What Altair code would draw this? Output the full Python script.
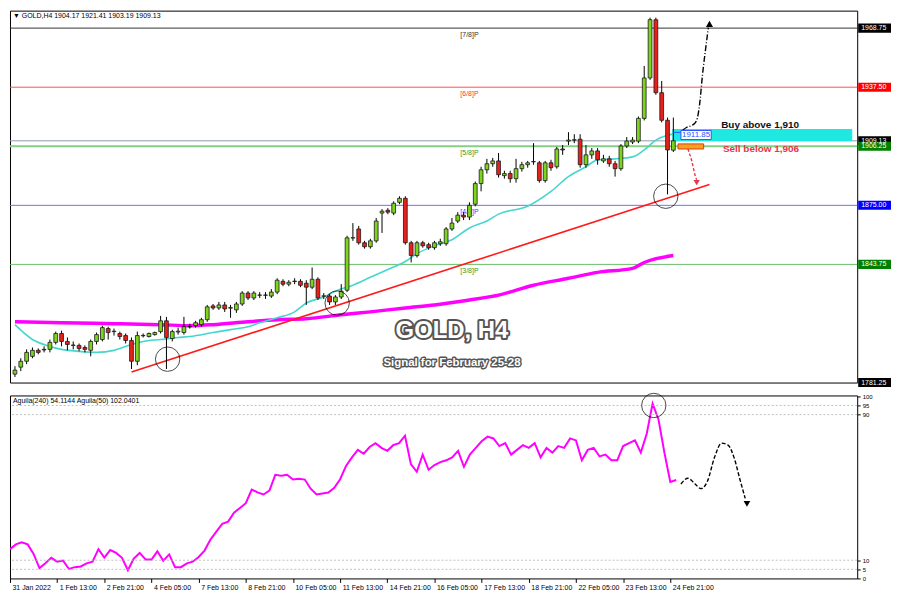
import json
import altair as alt
import pandas as pd

W = 852
H1 = 374
H2 = 184
XMAX = 143.7
FONT = "Liberation Sans, DejaVu Sans"

# ---------------- data ----------------
tick_labels = ["31 Jan 2022", "1 Feb 13:00", "2 Feb 21:00", "4 Feb 05:00", "7 Feb 13:00",
               "8 Feb 21:00", "10 Feb 05:00", "11 Feb 13:00", "14 Feb 21:00", "16 Feb 05:00",
               "17 Feb 13:00", "18 Feb 21:00", "22 Feb 05:00", "23 Feb 13:00", "24 Feb 21:00"]
tick_bars = [0, 8, 16, 24, 32, 40, 48, 56, 64, 72, 80, 88, 96, 104, 112]

opens = [1785.7, 1789.4, 1792.5, 1795.1, 1798.3, 1798.8, 1798.8, 1802.5, 1807.2, 1803.0,
         1800.9, 1800.9, 1799.8, 1798.3, 1803.0, 1804.0, 1809.8, 1808.2, 1807.2, 1806.1,
         1803.5, 1792.5, 1806.0, 1805.6, 1806.6, 1808.2, 1813.9, 1804.5, 1808.0, 1807.7,
         1810.7, 1811.3, 1811.9, 1814.5, 1821.8, 1820.7, 1822.3, 1820.6, 1819.7, 1822.8,
         1828.6, 1826.0, 1827.4, 1827.6, 1827.0, 1829.1, 1834.8, 1833.3, 1834.9, 1834.8,
         1833.8, 1831.7, 1835.9, 1826.9, 1827.0, 1823.9, 1826.5, 1830.1, 1857.7, 1862.5,
         1855.2, 1853.1, 1856.2, 1870.9, 1872.4, 1870.9, 1876.6, 1878.7, 1855.2, 1848.4,
         1855.2, 1854.2, 1852.6, 1854.7, 1854.7, 1862.5, 1866.7, 1869.8, 1868.8, 1875.6,
         1886.5, 1893.8, 1897.0, 1898.5, 1890.7, 1891.8, 1889.1, 1894.4, 1896.5, 1898.0,
         1897.5, 1888.1, 1897.5, 1895.4, 1904.8, 1909.0, 1909.5, 1910.0, 1896.5, 1901.7,
         1903.8, 1898.5, 1899.6, 1897.0, 1894.4, 1906.4, 1908.5, 1909.0, 1921.0, 1942.4,
         1973.2, 1934.6, 1920.0, 1904.17]
closes = [1787.8, 1792.5, 1797.2, 1798.3, 1797.2, 1798.5, 1802.5, 1807.2, 1803.0, 1801.4,
          1801.1, 1799.3, 1798.8, 1803.0, 1806.6, 1810.3, 1807.7, 1808.4, 1805.6, 1803.5,
          1792.5, 1806.1, 1806.2, 1807.2, 1807.7, 1813.9, 1805.1, 1808.2, 1808.4, 1810.8,
          1810.9, 1812.9, 1814.5, 1821.3, 1820.7, 1822.3, 1820.2, 1820.9, 1822.8, 1828.6,
          1826.0, 1828.6, 1827.6, 1827.4, 1829.1, 1835.4, 1833.3, 1834.3, 1834.7, 1832.7,
          1831.7, 1835.9, 1826.0, 1827.1, 1823.9, 1826.5, 1829.6, 1857.8, 1857.9, 1855.2,
          1853.1, 1856.2, 1866.7, 1871.9, 1871.4, 1876.1, 1878.7, 1855.2, 1848.4, 1855.2,
          1853.6, 1852.6, 1855.2, 1855.7, 1862.5, 1865.6, 1869.8, 1868.8, 1875.0, 1886.5,
          1893.8, 1897.0, 1898.5, 1891.2, 1891.8, 1889.1, 1894.4, 1896.5, 1897.5, 1898.2,
          1888.1, 1897.5, 1894.9, 1904.8, 1904.3, 1909.5, 1909.7, 1896.5, 1901.7, 1903.8,
          1899.1, 1899.6, 1897.0, 1894.4, 1906.4, 1909.0, 1909.5, 1921.0, 1942.4, 1973.2,
          1934.6, 1920.0, 1904.3, 1909.13]
highs = [1789.9, 1794.1, 1798.8, 1799.8, 1799.3, 1800.4, 1804.0, 1808.2, 1808.7, 1805.1,
         1803.0, 1801.9, 1800.9, 1804.0, 1807.7, 1811.3, 1810.8, 1809.8, 1808.2, 1807.2,
         1805.1, 1808.2, 1807.2, 1807.7, 1808.2, 1816.5, 1816.0, 1809.2, 1810.3, 1816.0,
         1812.4, 1813.9, 1815.5, 1822.3, 1822.8, 1823.9, 1823.9, 1822.3, 1823.9, 1829.6,
         1829.6, 1829.6, 1829.1, 1829.1, 1830.7, 1836.4, 1835.9, 1835.4, 1836.4, 1835.9,
         1835.4, 1842.1, 1836.9, 1828.6, 1828.0, 1827.5, 1833.3, 1858.9, 1865.6, 1864.1,
         1856.2, 1857.3, 1868.3, 1873.0, 1873.5, 1877.1, 1879.8, 1879.8, 1856.2, 1856.2,
         1856.2, 1855.2, 1856.2, 1857.3, 1863.5, 1868.3, 1871.4, 1871.4, 1876.6, 1887.6,
         1895.4, 1899.6, 1900.1, 1902.7, 1893.3, 1893.3, 1899.6, 1898.0, 1898.5, 1907.9,
         1898.5, 1898.5, 1899.1, 1905.9, 1906.9, 1913.7, 1912.6, 1912.6, 1906.9, 1905.3,
         1905.3, 1901.7, 1901.2, 1898.5, 1907.4, 1911.1, 1911.1, 1922.0, 1948.7, 1974.3,
         1974.3, 1940.8, 1921.4, 1921.41]
lows = [1784.2, 1787.3, 1791.0, 1794.1, 1796.2, 1797.2, 1797.2, 1801.4, 1800.4, 1798.3,
        1798.8, 1797.8, 1797.2, 1795.1, 1801.4, 1803.0, 1804.0, 1806.1, 1804.0, 1801.9,
        1788.4, 1790.4, 1805.1, 1805.1, 1806.1, 1807.2, 1788.4, 1803.0, 1806.6, 1806.6,
        1809.8, 1810.3, 1810.8, 1813.4, 1819.7, 1819.7, 1818.6, 1815.5, 1818.1, 1821.8,
        1824.9, 1824.9, 1826.0, 1825.5, 1826.0, 1828.0, 1832.2, 1832.2, 1833.3, 1831.7,
        1822.3, 1830.7, 1824.9, 1825.4, 1822.3, 1822.3, 1825.4, 1829.1, 1856.2, 1854.2,
        1852.1, 1852.1, 1855.2, 1860.4, 1870.3, 1869.8, 1875.6, 1854.2, 1844.8, 1847.4,
        1852.6, 1851.5, 1851.5, 1853.6, 1853.6, 1861.5, 1865.6, 1867.2, 1867.2, 1874.5,
        1882.4, 1891.8, 1895.4, 1889.7, 1889.1, 1887.0, 1887.0, 1892.8, 1894.9, 1896.5,
        1887.0, 1887.0, 1893.3, 1894.4, 1901.7, 1906.9, 1907.9, 1894.9, 1894.9, 1899.6,
        1896.5, 1897.5, 1895.4, 1890.2, 1893.3, 1905.3, 1907.4, 1907.9, 1919.9, 1941.4,
        1933.5, 1918.9, 1880.8, 1903.19]

aguila = [16.1, 18.7, 19.9, 18.7, 13.5, 5.7, 8.3, 11.3, 9.2, 9.8,
          5.2, 6.2, 6.6, 8.3, 9.2, 16.1, 11.4, 15.6, 14.0, 11.3,
          4.5, 10.9, 14.0, 10.4, 10.4, 14.9, 9.7, 13.2, 6.2, 6.2,
          8.3, 9.2, 11.8, 15.3, 21.3, 25.7, 30.0, 31.2, 36.1, 38.7,
          41.3, 48.8, 47.3, 46.1, 48.2, 56.9, 56.4, 56.9, 54.3, 54.8,
          54.3, 49.3, 46.1, 46.7, 47.2, 49.8, 54.5, 61.8, 66.5, 70.6,
          68.5, 72.2, 74.3, 71.7, 70.1, 73.2, 74.3, 78.4, 62.8, 58.6,
          68.0, 59.7, 62.3, 63.9, 64.9, 66.5, 70.1, 61.3, 68.0, 71.7,
          75.3, 77.9, 76.9, 72.7, 74.3, 68.0, 70.6, 73.2, 71.7, 74.3,
          66.5, 71.7, 69.1, 72.7, 71.7, 76.9, 75.8, 64.9, 70.6, 71.7,
          67.0, 68.0, 64.9, 64.9, 72.7, 74.3, 75.8, 69.1, 79.5, 96.0,
          87.3, 69.1, 53.0, 54.1]

cyan_bars = [0, 3, 6, 8, 11, 14, 17, 20, 22, 25, 28, 30, 34, 37, 40, 42, 45, 48, 50, 53, 55,
             58, 61, 64, 67, 69, 72, 75, 78, 81, 83, 88, 92, 95, 98, 100, 103, 106, 108, 110, 112, 113]
cyan_vals = [1811.85, 1804.02, 1800.36, 1798.80, 1797.75, 1797.23, 1798.27, 1801.41, 1802.97,
             1804.02, 1805.06, 1805.59, 1807.68, 1809.24, 1810.81, 1812.90, 1815.51, 1818.64,
             1823.34, 1826.47, 1829.61, 1832.74, 1836.92, 1841.10, 1845.27, 1849.45, 1853.63,
             1856.76, 1863.03, 1866.69, 1870.34, 1874.52, 1882.35, 1890.18, 1895.41, 1899.06,
             1899.58, 1900.63, 1904.29, 1909.51, 1912.12, 1912.65]
mag_bars = [0, 8, 17, 25, 30, 34, 40, 45, 50, 56, 61, 67, 72, 78, 83, 89, 95, 100, 106, 108, 113]
mag_vals = [1813.42, 1812.90, 1812.38, 1811.85, 1811.33, 1811.85, 1813.42, 1814.46, 1814.99,
            1817.08, 1818.64, 1820.73, 1822.30, 1824.91, 1827.52, 1832.74, 1836.40, 1839.53,
            1841.62, 1844.75, 1848.41]

price_ticks = [1976.35, 1963.40, 1950.45, 1924.55, 1911.60, 1898.65, 1885.35, 1872.40,
               1859.45, 1846.50, 1833.55, 1820.60, 1807.65, 1794.70]

level_prices = [1968.75, 1937.50, 1909.13, 1906.25, 1875.00, 1843.75]
level_names = ["[7/8]P", "[6/8]P", "", "[5/8]P", "[4/8]P", "[3/8]P"]
level_line_colors = ["#333333", "#ff5050", "#8c9ab5", "#86cf86", "#6f6fff", "#6cbf6c"]
level_text_colors = ["#333333", "#ff3030", "#8c9ab5", "#2e9a2e", "#3a3aff", "#2e9a2e"]
level_widths = [1, 1, 1, 2.2, 1, 1]

box_prices = [1968.75, 1937.50, 1909.13, 1906.25, 1875.00, 1843.75, 1781.25]
box_colors = ["#000000", "#ff0000", "#000000", "#008000", "#0000ff", "#008000", "#000000"]

ind_grid = [95, 90, 10, 5]
ind_ticks = [100, 95, 90, 10, 5, 0]

# ---------------- frames ----------------
candles = pd.DataFrame({"bar": list(range(len(opens))), "open": opens, "high": highs,
                        "low": lows, "close": closes})
candles["dir"] = ["up" if c >= o else "down" for o, c in zip(opens, closes)]
ind = pd.DataFrame({"bar": list(range(len(aguila))), "v": aguila})
cyan = pd.DataFrame({"bar": cyan_bars, "p": cyan_vals})
mag = pd.DataFrame({"bar": mag_bars, "p": mag_vals})
levels = pd.DataFrame({"p": level_prices, "name": level_names, "lc": level_line_colors,
                       "tc": level_text_colors, "w": level_widths, "bar": 78})
boxes = pd.DataFrame({"p": box_prices, "c": box_colors,
                      "label": [f"{v:.2f}" for v in box_prices]})

xs = alt.Scale(domain=[0, XMAX], nice=False, zero=False)
ys = alt.Scale(domain=[1781.25, 1978.0], nice=False, zero=False)
vs = alt.Scale(domain=[0, 100.5], nice=False, zero=False)

AX_X = alt.Axis(values=tick_bars, labelExpr=f"{json.dumps(tick_labels)}[datum.value / 8]",
                labelAlign="left", labelOffset=2, labelFontSize=7, tickSize=4,
                labelPadding=1, domain=False, title=None, labelOverlap=False,
                labelFlush=False, grid=False, ticks=True)
AX_V = alt.Axis(orient="right", values=ind_ticks, title=None, labelFontSize=6,
                tickSize=3, labelPadding=2, domain=False, labelOverlap=False, grid=False)


def X(f="bar"):
    return alt.X(f"{f}:Q", scale=xs, axis=None)


def XB(f="bar"):
    return alt.X(f"{f}:Q", scale=xs, axis=AX_X)


def Y(f="p"):
    return alt.Y(f"{f}:Q", scale=ys, axis=None)


def V(f="v"):
    return alt.Y(f"{f}:Q", scale=vs, axis=AX_V)


# ---------------- main panel ----------------
lv_rules = alt.Chart(levels).mark_rule().encode(
    y=Y("p"), color=alt.Color("lc:N", scale=None), size=alt.Size("w:Q", scale=None))
lv_text = alt.Chart(levels).mark_text(dy=7, fontSize=7, font=FONT).encode(
    x=X("bar"), y=Y("p"), text="name:N", color=alt.Color("tc:N", scale=None))

buy_zone = alt.Chart(pd.DataFrame({"x1": [112.8], "x2": [XMAX], "y1": [1909.0], "y2": [1915.4]})
                     ).mark_rect(color="#1ee8e0").encode(x=X("x1"), x2="x2", y=Y("y1"), y2="y2")

mag_line = alt.Chart(mag).mark_line(color="#ff00ff", strokeWidth=3.5, interpolate="monotone",
                                    clip=True).encode(x=X("bar"), y=Y("p"))
cyan_line = alt.Chart(cyan).mark_line(color="#45d6cf", strokeWidth=1.6, interpolate="monotone",
                                      clip=True).encode(x=X("bar"), y=Y("p"))
trend = alt.Chart(pd.DataFrame({"bar": [20, 119.2], "p": [1786.8, 1886.0]})).mark_line(
    color="#ff1a1a", strokeWidth=1.6).encode(x=X("bar"), y=Y("p"))

wicks = alt.Chart(candles).mark_rule(color="#000", strokeWidth=1, clip=True).encode(
    x=X("bar"),
    y=alt.Y("low:Q", scale=ys,
            axis=alt.Axis(orient="right", values=price_ticks, format=".2f", title=None,
                          labelFontSize=7, tickSize=3, labelPadding=2, domain=False,
                          labelOverlap=False, grid=False)),
    y2="high:Q")
bodies = alt.Chart(candles).mark_bar(size=3.8, stroke="#1a1a1a", strokeWidth=0.8, clip=True).encode(
    x=X("bar"), y=Y("open"), y2="close:Q",
    color=alt.Color("dir:N", scale=alt.Scale(domain=["up", "down"], range=["#7cd51b", "#e8201a"]),
                    legend=None))

circles_main = alt.Chart(pd.DataFrame({"bar": [26.2, 55.3, 111.7], "p": [1793.6, 1823.3, 1879.8]})
                         ).mark_point(shape="circle", size=600, filled=False, color="#000",
                                      strokeWidth=1).encode(x=X("bar"), y=Y("p"))

up_arrow = alt.Chart(pd.DataFrame({
    "bar": [114.6, 115.3, 116.2, 117.0, 117.5, 118.0, 118.7, 119.0],
    "p": [1914.7, 1916.3, 1917.3, 1919.9, 1928.3, 1944.0, 1961.7, 1969.0]})).mark_line(
    color="#000", strokeWidth=1.4, strokeDash=[6, 2, 1, 2], interpolate="monotone").encode(
    x=X("bar"), y=Y("p"))
up_head = alt.Chart(pd.DataFrame({"bar": [119.2], "p": [1971.0]})).mark_point(
    shape="triangle-up", filled=True, size=50, color="#000", opacity=1).encode(x=X("bar"), y=Y("p"))
dn_arrow = alt.Chart(pd.DataFrame({"bar": [115.5, 116.2, 116.7, 117.0],
                                   "p": [1904.8, 1898.0, 1891.2, 1888.5]})).mark_line(
    color="#e8334a", strokeWidth=1.4, strokeDash=[3, 2], interpolate="monotone").encode(
    x=X("bar"), y=Y("p"))
dn_head = alt.Chart(pd.DataFrame({"bar": [117.0], "p": [1887.0]})).mark_point(
    shape="triangle-down", filled=True, size=40, color="#e8334a", opacity=1).encode(x=X("bar"), y=Y("p"))

sell_box = alt.Chart(pd.DataFrame({"x1": [113.8], "x2": [118.2], "y1": [1904.8], "y2": [1907.5]})
                     ).mark_rect(color="#f7a21b", stroke="#e03a1e", strokeWidth=1).encode(
    x=X("x1"), x2="x2", y=Y("y1"), y2="y2")

tag_line = alt.Chart(pd.DataFrame({"x1": [112.9], "x2": [114.3], "p": [1913.6]})).mark_rule(
    color="#2a54ff").encode(x=X("x1"), x2="x2", y=Y("p"))
tag_box = alt.Chart(pd.DataFrame({"x1": [114.3], "x2": [119.5], "y1": [1909.8], "y2": [1914.6]})
                    ).mark_rect(color="#ffffff", stroke="#2a54ff", strokeWidth=1).encode(
    x=X("x1"), x2="x2", y=Y("y1"), y2="y2")
tag_text = alt.Chart(pd.DataFrame({"bar": [116.9], "p": [1912.2], "t": ["1911.85"]})).mark_text(
    fontSize=8, font=FONT, color="#2a54ff").encode(x=X("bar"), y=Y("p"), text="t:N")

signal_text = alt.Chart(pd.DataFrame({
    "bar": [121.2, 121.5], "p": [1917.6, 1904.6], "t": ["Buy above 1,910", "Sell below 1,906"],
    "c": ["#111111", "#e8334a"]})).mark_text(
    fontSize=10, font=FONT, fontWeight="bold", align="left").encode(
    x=X("bar"), y=Y("p"), text="t:N", color=alt.Color("c:N", scale=None))

big = pd.DataFrame({"bar": [75, 75], "p": [1808.4, 1791.6], "t": ["GOLD, H4", "Signal for February 25-28"],
                    "s": [24, 11.5], "sw": [4, 3]})
big_outline = alt.Chart(big).mark_text(font=FONT, fontWeight="bold", color="#555555",
                                       stroke="#555555", strokeJoin="round").encode(
    x=X("bar"), y=Y("p"), text="t:N", size=alt.Size("s:Q", scale=None),
    strokeWidth=alt.StrokeWidth("sw:Q", scale=None))
big_fill = alt.Chart(big).mark_text(font=FONT, fontWeight="bold", color="#ffffff").encode(
    x=X("bar"), y=Y("p"), text="t:N", size=alt.Size("s:Q", scale=None))

box_rects = alt.Chart(boxes).transform_calculate(
    lo="datum.p - 2.4", hi="datum.p + 2.4").mark_rect().encode(
    x=alt.value(W + 1), x2=alt.value(W + 34), y=Y("lo"), y2="hi:Q",
    color=alt.Color("c:N", scale=None))
box_text = alt.Chart(boxes).mark_text(fontSize=7, font=FONT, color="#ffffff", align="left").encode(
    x=alt.value(W + 4), y=Y("p"), text="label:N")

title_main = alt.Chart(pd.DataFrame({"t": ["\u25bc GOLD,H4  1904.17 1921.41 1903.19 1909.13"]})).mark_text(
    fontSize=7, font=FONT, align="left", baseline="middle", color="#000").encode(
    x=alt.value(3), y=alt.value(5), text="t:N")

top = alt.layer(
    lv_rules, lv_text, buy_zone, mag_line, cyan_line, trend, wicks, bodies, circles_main,
    up_arrow, up_head, dn_arrow, dn_head, sell_box, tag_line, tag_box, tag_text, signal_text,
    big_outline, big_fill, box_rects, box_text, title_main
).properties(width=W, height=H1)

# ---------------- indicator panel ----------------
ind_line = alt.Chart(ind).mark_line(color="#ff00ff", strokeWidth=2, clip=True).encode(
    x=XB("bar"), y=V("v"))
grid = alt.Chart(pd.DataFrame({"v": ind_grid})).mark_rule(
    color="#b0b0b0", strokeDash=[2, 2], strokeWidth=0.8).encode(y=V("v"))
ind_circle = alt.Chart(pd.DataFrame({"bar": [109.2], "v": [95.0]})).mark_point(
    shape="circle", size=600, filled=False, color="#000", strokeWidth=1).encode(x=XB("bar"), y=V("v"))
wave = alt.Chart(pd.DataFrame({
    "bar": [113.8, 115.0, 116.2, 117.2, 118.3, 119.5, 120.7, 121.8, 122.8, 123.8, 124.7],
    "v": [51.9, 55.0, 51.9, 49.3, 53.4, 66.5, 74.3, 73.2, 66.5, 54.5, 44.0]})).mark_line(
    color="#000", strokeWidth=1.4, strokeDash=[4, 2], interpolate="monotone").encode(x=XB("bar"), y=V("v"))
wave_head = alt.Chart(pd.DataFrame({"bar": [125.0], "v": [41.0]})).mark_point(
    shape="triangle-down", filled=True, size=45, color="#000", opacity=1).encode(x=XB("bar"), y=V("v"))
title_ind = alt.Chart(pd.DataFrame({"t": ["Aguila(240) 54.1144  Aguila(50) 102.0401"]})).mark_text(
    fontSize=7, font=FONT, align="left", baseline="middle", color="#000").encode(
    x=alt.value(3), y=alt.value(6), text="t:N")

bottom = alt.layer(ind_line, grid, ind_circle, wave, wave_head, title_ind).properties(width=W, height=H2)

chart = alt.vconcat(top, bottom, spacing=2).resolve_scale(x="independent").properties(
    padding=0, background="#ffffff"
).configure_view(stroke="#000000", strokeWidth=1).configure_axis(
    labelFont=FONT, labelColor="#000000", tickColor="#000000", domainColor="#000000"
).configure_concat(spacing=2)

chart.save("out.html", embed_options={"renderer": "svg", "actions": False})
